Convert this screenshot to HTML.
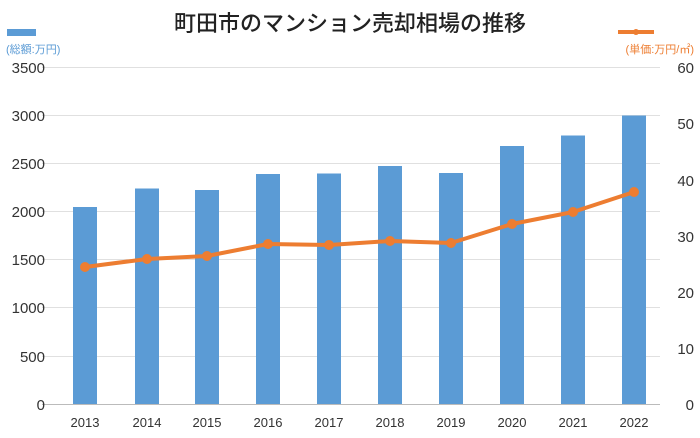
<!DOCTYPE html>
<html><head><meta charset="utf-8"><style>
html,body{margin:0;padding:0;background:#fff;}
svg{display:block;font-family:"Liberation Sans","Noto Sans CJK JP",sans-serif;}
</style></head><body>
<svg width="700" height="438" viewBox="0 0 700 438">
<text x="350" y="31" text-anchor="middle" font-size="22" font-weight="500" fill="#222">町田市のマンション売却相場の推移</text>
<rect x="7" y="29" width="29" height="7" fill="#5b9bd5"/>
<text x="6" y="53" font-size="11" fill="#5b9bd5">(総額:万円)</text>
<line x1="618" y1="32" x2="654" y2="32" stroke="#ed7d31" stroke-width="4"/>
<circle cx="636" cy="32" r="3" fill="#ed7d31"/>
<text x="694" y="53" font-size="11" fill="#ed7d31" text-anchor="end">(単価:万円/㎡)</text>
<g stroke="#e0e0e0" stroke-width="1">
<line x1="42" y1="67.5" x2="660" y2="67.5"/><line x1="42" y1="115.5" x2="660" y2="115.5"/>
<line x1="42" y1="163.5" x2="660" y2="163.5"/><line x1="42" y1="211.5" x2="660" y2="211.5"/>
<line x1="42" y1="259.5" x2="660" y2="259.5"/><line x1="42" y1="307.5" x2="660" y2="307.5"/>
<line x1="42" y1="356.5" x2="660" y2="356.5"/>
</g>
<line x1="42" y1="404.5" x2="660" y2="404.5" stroke="#bbb"/>
<g font-size="15" fill="#333" text-anchor="end">
<text x="45" y="73">3500</text><text x="45" y="121">3000</text><text x="45" y="169">2500</text>
<text x="45" y="217">2000</text><text x="45" y="265">1500</text><text x="45" y="313">1000</text>
<text x="45" y="362">500</text><text x="45" y="410">0</text>
</g>
<g font-size="15" fill="#333" text-anchor="end">
<text x="694" y="73">60</text><text x="694" y="129">50</text><text x="694" y="186">40</text>
<text x="694" y="242">30</text><text x="694" y="298">20</text><text x="694" y="354">10</text><text x="694" y="410">0</text>
</g>
<g fill="#5b9bd5">
<rect x="73" y="207" width="24" height="197"/>
<rect x="135" y="188.5" width="24" height="215.5"/>
<rect x="195" y="190" width="24" height="214"/>
<rect x="256" y="174" width="24" height="230"/>
<rect x="317" y="173.5" width="24" height="230.5"/>
<rect x="378" y="166" width="24" height="238"/>
<rect x="439" y="173" width="24" height="231"/>
<rect x="500" y="146" width="24" height="258"/>
<rect x="561" y="135.5" width="24" height="268.5"/>
<rect x="622" y="115.5" width="24" height="288.5"/>
</g>
<polyline fill="none" stroke="#ed7d31" stroke-width="4" stroke-linejoin="round" points="85,267 147,259 207,256 268,244 329,245 390,241 451,243 512,224 573,212 634,192"/>
<g fill="#ed7d31">
<circle cx="85" cy="267" r="5"/><circle cx="147" cy="259" r="5"/><circle cx="207" cy="256" r="5"/>
<circle cx="268" cy="244" r="5"/><circle cx="329" cy="245" r="5"/><circle cx="390" cy="241" r="5"/>
<circle cx="451" cy="243" r="5"/><circle cx="512" cy="224" r="5"/><circle cx="573" cy="212" r="5"/>
<circle cx="634" cy="192" r="5"/>
</g>
<g font-size="13" fill="#333" text-anchor="middle">
<text x="85" y="427">2013</text><text x="147" y="427">2014</text><text x="207" y="427">2015</text>
<text x="268" y="427">2016</text><text x="329" y="427">2017</text><text x="390" y="427">2018</text>
<text x="451" y="427">2019</text><text x="512" y="427">2020</text><text x="573" y="427">2021</text>
<text x="634" y="427">2022</text>
</g>
</svg>
</body></html>
